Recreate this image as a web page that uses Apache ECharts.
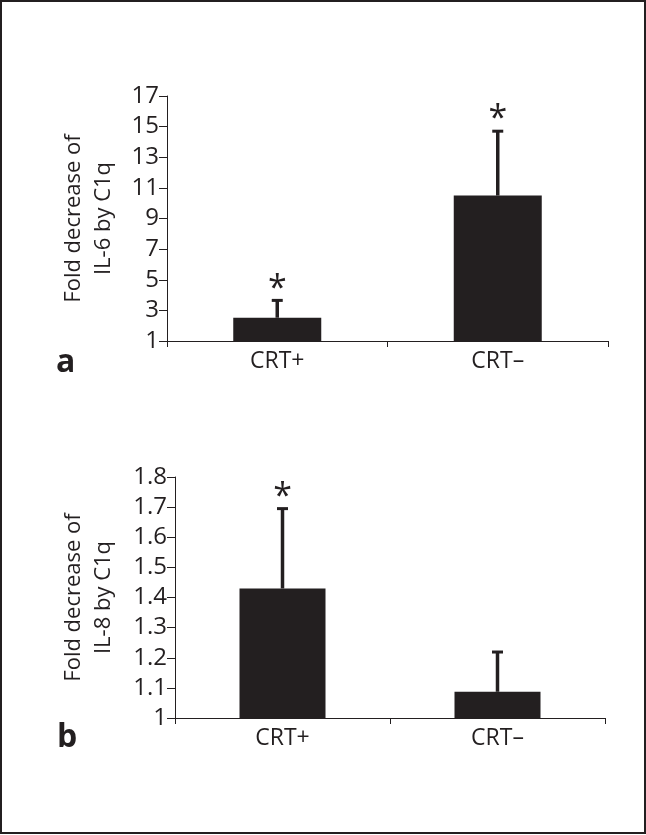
<!DOCTYPE html>
<html>
<head>
<meta charset="utf-8">
<script src="https://cdn.jsdelivr.net/npm/echarts@6/dist/echarts.min.js"></script>
<style>
html,body{margin:0;padding:0;background:#fff;}
#chart{width:646px;height:835px;}
</style>
</head>
<body>
<div id="chart"></div>
<script>
// ---- data ----
const categories = ['CRT+', 'CRT\u2013'];
// Panel a: IL-6
const il6Means = [2.52, 10.5];
const il6ErrTop = [3.75, 14.8];
const il6Sig = ['*', '*'];
const il6Ticks = [1, 3, 5, 7, 9, 11, 13, 15, 17];
// Panel b: IL-8
const il8Means = [1.43, 1.087];
const il8ErrTop = [1.70, 1.224];
const il8Sig = ['*', ''];
const il8Ticks = [1, 1.1, 1.2, 1.3, 1.4, 1.5, 1.6, 1.7, 1.8];

const ink = '#231f20';
const font = '"Open Sans", "Noto Sans", sans-serif';

function errData(means, tops, sig) {
  return means.map((m, i) => [i, m, tops[i], sig[i]]);
}

function renderErr(params, api) {
  const base = api.coord([api.value(0), api.value(1)]);
  const top = api.coord([api.value(0), api.value(2)]);
  const children = [
    {type: 'line', shape: {x1: base[0], y1: base[1], x2: top[0], y2: top[1] + 1},
     style: {stroke: ink, lineWidth: 3.5}},
    {type: 'line', shape: {x1: top[0] - 5.5, y1: top[1] + 1.5, x2: top[0] + 5.5, y2: top[1] + 1.5},
     style: {stroke: ink, lineWidth: 3}}
  ];
  const s = api.value(3);
  if (s) {
    children.push({type: 'text', x: top[0], y: top[1] + 7,
      style: {text: String(s), fill: ink, font: '34px ' + font,
              align: 'center', verticalAlign: 'bottom'}});
  }
  return {type: 'group', children: children};
}

function yAxisCfg(gridIndex, ticks, gap) {
  return {
    type: 'value', gridIndex: gridIndex,
    min: ticks[0], max: ticks[ticks.length - 1],
    splitLine: {show: false},
    axisLine: {show: true, lineStyle: {color: ink, width: 1}},
    axisTick: {show: true, length: 8, lineStyle: {color: ink, width: 1}, customValues: ticks},
    axisLabel: {color: ink, fontSize: 24, fontFamily: font, margin: 8, customValues: ticks},
    name: gridIndex === 0 ? 'Fold decrease of\nIL-6 by C1q' : 'Fold decrease of\nIL-8 by C1q',
    nameLocation: 'middle', nameRotate: 90, nameGap: gap,
    nameTextStyle: {color: ink, fontSize: 22, fontFamily: font, lineHeight: 30}
  };
}

function xAxisCfg(gridIndex) {
  return {
    type: 'category', gridIndex: gridIndex, data: categories,
    axisLine: {show: true, lineStyle: {color: ink, width: 1}},
    axisTick: {show: true, length: 6, lineStyle: {color: ink, width: 1}},
    axisLabel: {color: ink, fontSize: 23, fontFamily: font, margin: 9}
  };
}

const chart = echarts.init(document.getElementById('chart'), null, {renderer: 'canvas'});
chart.setOption({
  animation: false,
  backgroundColor: '#fff',
  grid: [
    {left: 167, top: 96, width: 441, height: 245},
    {left: 175, top: 477, width: 430, height: 241}
  ],
  xAxis: [xAxisCfg(0), xAxisCfg(1)],
  yAxis: [yAxisCfg(0, il6Ticks, 48), yAxisCfg(1, il8Ticks, 56)],
  series: [
    {type: 'bar', xAxisIndex: 0, yAxisIndex: 0, data: il6Means, barWidth: 88,
     itemStyle: {color: ink}},
    {type: 'custom', xAxisIndex: 0, yAxisIndex: 0, data: errData(il6Means, il6ErrTop, il6Sig),
     renderItem: renderErr, z: 3},
    {type: 'bar', xAxisIndex: 1, yAxisIndex: 1, data: il8Means, barWidth: 86,
     itemStyle: {color: ink}},
    {type: 'custom', xAxisIndex: 1, yAxisIndex: 1, data: errData(il8Means, il8ErrTop, il8Sig),
     renderItem: renderErr, z: 3}
  ],
  graphic: [
    {type: 'rect', shape: {x: 1, y: 1, width: 644, height: 832},
     style: {fill: 'none', stroke: ink, lineWidth: 2}},
    {type: 'text', left: 56, top: 347,
     style: {text: 'a', fill: ink, font: 'bold 32px ' + font}},
    {type: 'text', left: 57, top: 722,
     style: {text: 'b', fill: ink, font: 'bold 32px ' + font}}
  ]
});
</script>
</body>
</html>
